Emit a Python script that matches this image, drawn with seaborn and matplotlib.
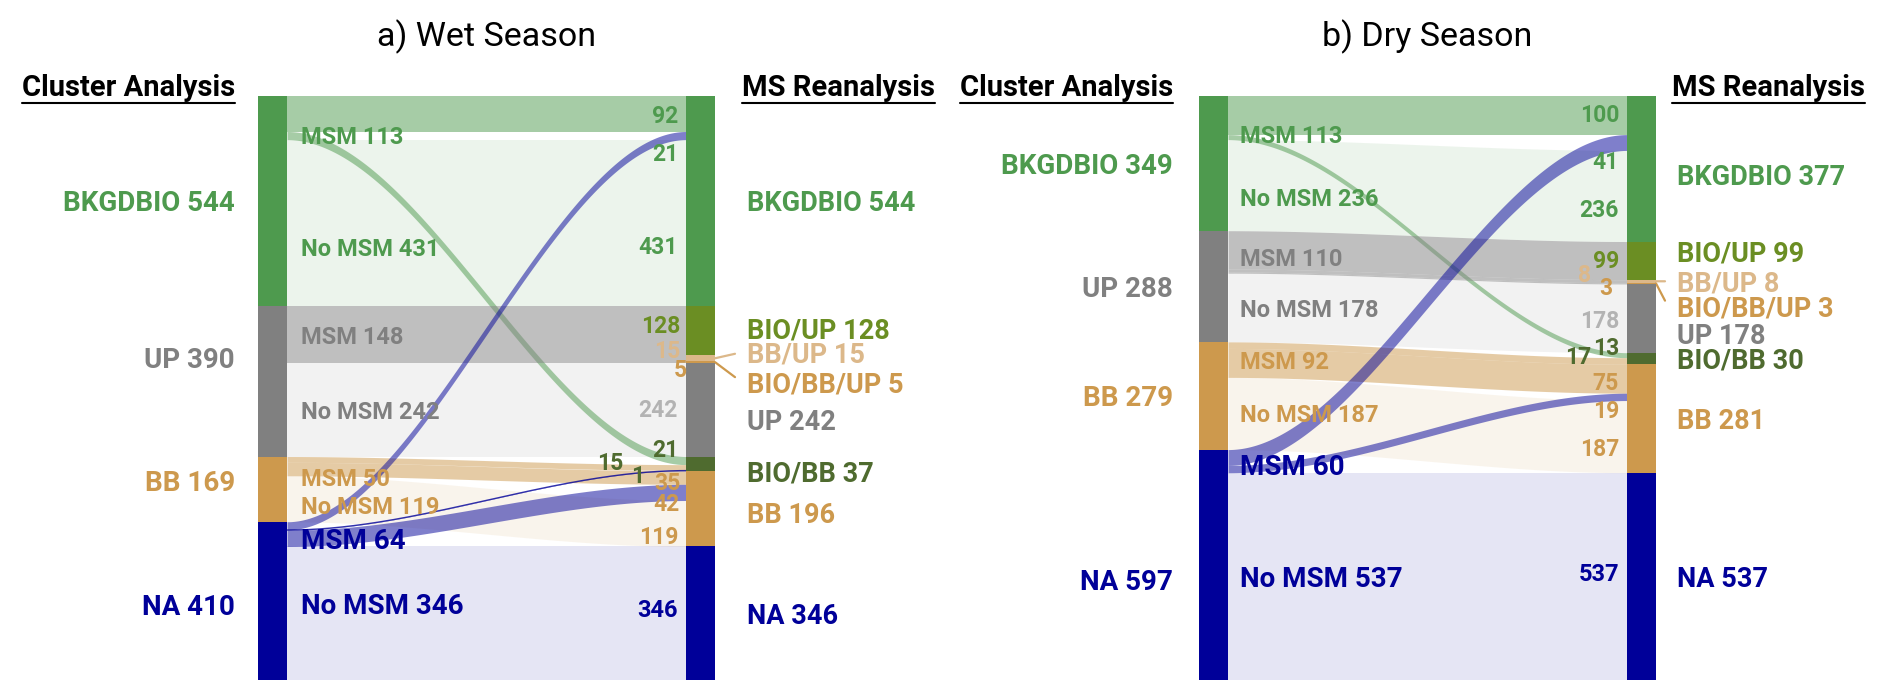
"""Cluster analysis vs MS reanalysis: two-column alluvial plots for wet and dry seasons."""

import numpy as np
import matplotlib
matplotlib.use("Agg")
import matplotlib.pyplot as plt
import seaborn as sns

sns.set_theme(style="white")
plt.rcParams["font.family"] = ["Roboto", "DejaVu Sans"]

# ---------------------------------------------------------------- data
CLUSTERS = ["BKGDBIO", "UP", "BB", "NA"]
REANALYSIS = ["BKGDBIO", "BIO/UP", "BB/UP", "BIO/BB/UP", "UP", "BIO/BB", "BB", "NA"]
SEGMENTS = ["MSM", "No MSM"]

wet_src = ["BKGDBIO", "BKGDBIO", "BKGDBIO", "UP", "UP", "UP", "UP",
           "BB", "BB", "BB", "NA", "NA", "NA", "NA"]
wet_seg = ["MSM", "MSM", "No MSM", "MSM", "MSM", "MSM", "No MSM",
           "MSM", "MSM", "No MSM", "MSM", "MSM", "MSM", "No MSM"]
wet_tgt = ["BKGDBIO", "BIO/BB", "BKGDBIO", "BIO/UP", "BB/UP", "BIO/BB/UP", "UP",
           "BIO/BB", "BB", "BB", "BKGDBIO", "BIO/BB", "BB", "NA"]
wet_val = [92, 21, 431, 128, 15, 5, 242, 15, 35, 119, 21, 1, 42, 346]

dry_src = ["BKGDBIO", "BKGDBIO", "BKGDBIO", "UP", "UP", "UP", "UP",
           "BB", "BB", "BB", "NA", "NA", "NA"]
dry_seg = ["MSM", "MSM", "No MSM", "MSM", "MSM", "MSM", "No MSM",
           "MSM", "MSM", "No MSM", "MSM", "MSM", "No MSM"]
dry_tgt = ["BKGDBIO", "BIO/BB", "BKGDBIO", "BIO/UP", "BB/UP", "BIO/BB/UP", "UP",
           "BIO/BB", "BB", "BB", "BKGDBIO", "BB", "NA"]
dry_val = [100, 13, 236, 99, 8, 3, 178, 17, 75, 187, 41, 19, 537]

# ---------------------------------------------------------------- style
COLORS = {"BKGDBIO": "#4e9a4e", "UP": "#808080", "BB": "#cd994d", "NA": "#000099",
          "BIO/UP": "#6b8e23", "BB/UP": "#dcb88a", "BIO/BB/UP": "#cd994d",
          "BIO/BB": "#4f6b2f"}
VALUE_COLORS = dict(COLORS, UP="#b3b3b3")
FLOW_ALPHA = {"MSM": 0.5, "No MSM": 0.1}

W, H, DPI = 1892, 699, 100
TOP_PX, BOT_PX, SPAN_PX, BAR_PX = 96, 680, 457, 29

# label nudges in pixels (positive = down / right)
PANELS = [
    dict(title="a) Wet Season", left=258,
         src=wet_src, seg=wet_seg, tgt=wet_tgt, val=wet_val,
         out_dx=-23, in_dx=14, right_dx=32,
         out_dy={"UP": -24, "BB": -9, "NA": 4},
         in_dy={("BKGDBIO", "MSM"): 17, ("BKGDBIO", "No MSM"): 24,
                ("BB", "MSM"): 11, ("BB", "No MSM"): 6, ("NA", "MSM"): 4,
                ("NA", "No MSM"): -10},
         right_dy={"BIO/UP": -3, "BB/UP": -6, "BIO/BB/UP": 20, "UP": 10,
                   "BIO/BB": 7, "BB": 4},
         val_dy=[0, -13, 22, -7, -9, 6, -2, -7, 3, 12, 16, 3, 10, -5],
         val_dx=[0, 0, 0, 2, 2, 9, 0, -55, 2, 0, 0, -34, 2, 0]),
    dict(title="b) Dry Season", left=1199,
         src=dry_src, seg=dry_seg, tgt=dry_tgt, val=dry_val,
         out_dx=-26, in_dx=12, right_dx=21,
         out_dy={"NA": 15},
         in_dy={("BKGDBIO", "MSM"): 16, ("BKGDBIO", "No MSM"): 12,
                ("UP", "MSM"): 5, ("NA", "MSM"): 3},
         right_dy={"BKGDBIO": 6, "BIO/UP": -10, "BIO/BB/UP": 23, "UP": 15},
         val_dy=[-2, -9, 12, -2, -8, 3, 1, -6, 2, 10, 17, 12, -4],
         val_dx=[0, 0, 0, 0, -28, -7, 0, -28, 0, 0, 0, 0, 0]),
]


def label(ax, text, xy, dx, dy, **kw):
    ax.annotate(text, xy=xy, xytext=(dx, -dy), textcoords="offset pixels",
                va="center_baseline", annotation_clip=False, **kw)


def draw_panel(fig, p):
    src, seg, tgt, val = p["src"], p["seg"], p["tgt"], p["val"]
    n = len(val)
    ax = fig.add_axes([p["left"] / W, (H - BOT_PX) / H, SPAN_PX / W,
                       (BOT_PX - TOP_PX) / H])
    total = sum(val)
    ax.set_xlim(0, 1)
    ax.set_ylim(total, 0)
    ax.axis("off")
    w = BAR_PX / SPAN_PX

    # stacking order on each side
    lorder = sorted(range(n), key=lambda i: (CLUSTERS.index(src[i]),
                                             SEGMENTS.index(seg[i]),
                                             REANALYSIS.index(tgt[i])))
    rorder = sorted(range(n), key=lambda i: (REANALYSIS.index(tgt[i]),
                                             SEGMENTS.index(seg[i]),
                                             CLUSTERS.index(src[i])))
    y0, y1 = np.zeros(n), np.zeros(n)
    y0[lorder] = np.cumsum([0] + [val[i] for i in lorder])[:-1]
    y1[rorder] = np.cumsum([0] + [val[i] for i in rorder])[:-1]

    # flows: light "No MSM" first, MSM on top
    xs = np.linspace(w, 1 - w, 300)
    s = (xs - w) / (1 - 2 * w)
    f = 3 * s ** 2 - 2 * s ** 3
    for i in sorted(range(n), key=lambda i: -SEGMENTS.index(seg[i])):
        top = y0[i] + (y1[i] - y0[i]) * f
        c = COLORS[src[i]]
        ax.fill_between(xs, top, top + val[i], color=c,
                        alpha=FLOW_ALPHA[seg[i]], lw=0, zorder=1)
        if val[i] < 3:
            ax.plot(xs, top + val[i] / 2, color=c, alpha=0.8, lw=1.0, zorder=1)

    # left bar
    lbottom = 0
    for cat in CLUSTERS:
        cv = sum(v for v, s_ in zip(val, src) if s_ == cat)
        ax.bar(w / 2, cv, bottom=lbottom, width=w, color=COLORS[cat],
               lw=0, zorder=3)
        label(ax, f"{cat} {cv}", (0, lbottom + cv / 2), p["out_dx"],
              p["out_dy"].get(cat, 0), ha="right", fontsize=20,
              fontweight="bold", color=COLORS[cat])
        sbottom = lbottom
        for sg in SEGMENTS:
            sv = sum(v for v, s_, g in zip(val, src, seg) if s_ == cat and g == sg)
            fs = 20 if cat == "NA" else 17
            label(ax, f"{sg} {sv}", (w, sbottom + sv / 2), p["in_dx"],
                  p["in_dy"].get((cat, sg), 0), ha="left", fontsize=fs,
                  fontweight="bold", color=COLORS[cat], zorder=5)
            sbottom += sv
        lbottom += cv

    # right bar
    rbottom = 0
    for cat in REANALYSIS:
        cv = sum(v for v, t in zip(val, tgt) if t == cat)
        ax.bar(1 - w / 2, cv, bottom=rbottom, width=w, color=COLORS[cat],
               lw=0, zorder=3)
        yc = rbottom + cv / 2
        dy = p["right_dy"].get(cat, 0)
        label(ax, f"{cat} {cv}", (1, yc), p["right_dx"], dy, ha="left",
              fontsize=19.5, fontweight="bold", color=COLORS[cat])
        if cat in ("BB/UP", "BIO/BB/UP"):
            ax.annotate("", xy=(1, yc), xytext=(p["right_dx"] - 12, -0.75 * dy),
                        textcoords="offset pixels", annotation_clip=False,
                        arrowprops=dict(arrowstyle="-", color=COLORS[cat],
                                        lw=1.6, shrinkA=0, shrinkB=0))
        rbottom += cv

    # flow values next to the right bar
    for i in range(n):
        fs = 17 if tgt[i] == "NA" else 16.5
        label(ax, str(val[i]), (1 - w, y1[i] + val[i] / 2),
              -8 + p["val_dx"][i], p["val_dy"][i], ha="right", fontsize=fs,
              fontweight="bold", color=VALUE_COLORS[tgt[i]], zorder=5)

    # headers and title
    ax.annotate(p["title"], xy=(0.5, 1), xycoords="axes fraction",
                xytext=(0, 63), textcoords="offset pixels", ha="center",
                va="center_baseline", fontsize=24.5, color="black")
    heads = [ax.annotate("Cluster Analysis", xy=(0, 1), xycoords="axes fraction",
                         xytext=(p["out_dx"], 11), textcoords="offset pixels",
                         ha="right", va="center_baseline", fontsize=21,
                         fontweight="bold", color="black"),
             ax.annotate("MS Reanalysis", xy=(1, 1), xycoords="axes fraction",
                         xytext=(p["right_dx"] - 5, 11), textcoords="offset pixels",
                         ha="left", va="center_baseline", fontsize=21,
                         fontweight="bold", color="black")]
    return heads


fig = plt.figure(figsize=(W / DPI, H / DPI), dpi=DPI)
headers = []
for p in PANELS:
    headers += draw_panel(fig, p)

# underline the column headers
fig.canvas.draw()
for t in headers:
    bb = t.get_window_extent()
    y = (bb.y0 - 1) / H
    fig.add_artist(plt.Line2D([bb.x0 / W, bb.x1 / W], [y, y],
                              transform=fig.transFigure, color="black", lw=1.5))

fig.savefig("out.png", dpi=DPI)
